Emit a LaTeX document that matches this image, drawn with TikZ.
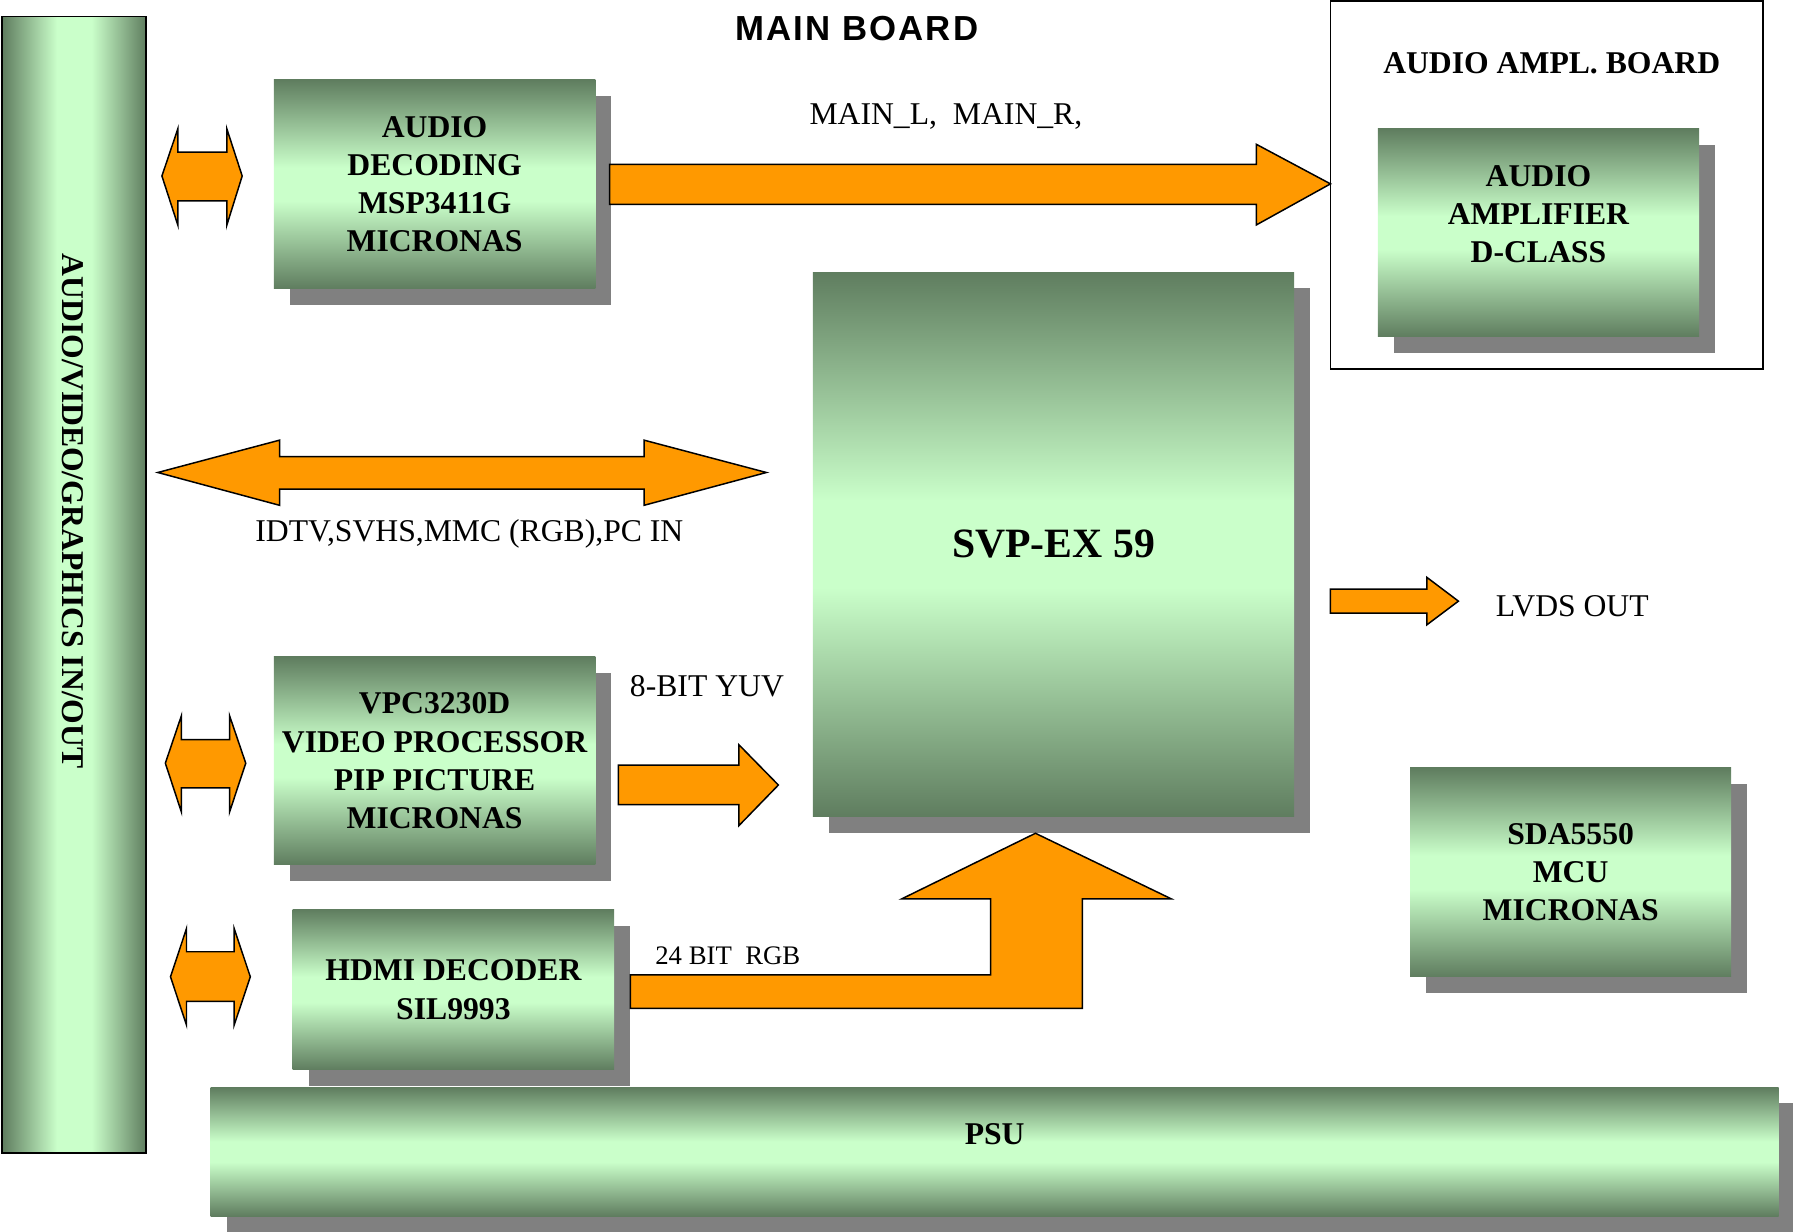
\documentclass[tikz,border=0pt]{standalone}
\usepackage{fontspec}
\setmainfont{Liberation Serif}
\newfontfamily\titlefam[LetterSpace=6]{Liberation Sans}
\definecolor{gdark}{RGB}{95,125,95}
\definecolor{glight}{RGB}{202,255,202}
\definecolor{orng}{RGB}{255,153,0}
\definecolor{shgray}{RGB}{128,128,128}
\pgfdeclareverticalshading{gvert}{100bp}{color(0bp)=(gdark); color(25bp)=(gdark); color(46bp)=(glight); color(54bp)=(glight); color(75bp)=(gdark); color(100bp)=(gdark)}
\pgfdeclarehorizontalshading{ghoriz}{100bp}{color(0bp)=(gdark); color(25bp)=(gdark); color(44bp)=(glight); color(56bp)=(glight); color(75bp)=(gdark); color(100bp)=(gdark)}
\newcommand\bx{\bfseries\fontsize{27.7}{33.4}\selectfont}
\newcommand\rg{\fontsize{27.7}{33.4}\selectfont}
\newcommand\sm{\fontsize{23.4}{28}\selectfont}
\newcommand\ttl{\titlefam\bfseries\fontsize{30.4}{34}\selectfont}
\newcommand\gbox[7]{%
  \fill[shgray] (#2+14,#3+14) rectangle (#4+14,#5+14);
  \node[gbox, minimum width={#4-#2}, minimum height={#5-#3}] (#1) at ({(#2+#4)/2},{(#3+#5)/2}) {};
  \node[btext, yshift=#6pt] (#1-t) at (#1.center) {#7};
}
\newcommand\dblarr[9]{%
  \draw[arr] (#1,#7) -- (#2,#5) -- (#2,#6) -- (#3,#6) -- (#3,#5) -- (#4,#7) -- (#3,#9) -- (#3,#8) -- (#2,#8) -- (#2,#9) -- cycle;
}
\begin{document}
\begin{tikzpicture}[x=1pt,y=-1pt,
  gbox/.style={inner sep=0pt, shade, shading=gvert},
  btext/.style={font=\bx, align=center, inner sep=0pt},
  lbl/.style={font=\rg, anchor=base, inner sep=0pt},
  arr/.style={fill=orng, draw=black, line width=1.3pt, line join=miter}]
\useasboundingbox (0,0) rectangle (1568,1076.6);

% left in/out bar
\node[draw=black, line width=1.6pt, inner sep=0pt, shade, shading=ghoriz,
      minimum width=126, minimum height=993.5] (io) at (65,511.25) {};
\node[btext, rotate=-90] (io-t) at (64,447) {AUDIO/VIDEO/GRAPHICS IN/OUT};

% audio amplifier board frame
\draw[line width=1.5pt] (1163.5,0.8) rectangle (1541.5,322.6);
\node[lbl, font=\bx] (ampboard) at (1357,64.7) {AUDIO AMPL. BOARD};

% title
\node[lbl, font=\ttl] (title) at (749.4,35.6) {MAIN BOARD};

% boxes
\gbox{dec}{239.5}{69.8}{520.6}{252.4}{0}{AUDIO\\DECODING\\MSP3411G\\MICRONAS}
\gbox{amp}{1205}{112.7}{1485.8}{294.3}{16}{AUDIO\\AMPLIFIER\\D-CLASS}
\gbox{svp}{710.8}{237.9}{1131.8}{714.1}{0}{\fontsize{36.5}{40}\selectfont SVP-EX 59}
\gbox{vpc}{239.5}{574.5}{520.6}{756}{0}{VPC3230D\\VIDEO PROCESSOR\\PIP PICTURE\\MICRONAS}
\gbox{hdmi}{256}{795.4}{537.1}{935.5}{0}{HDMI DECODER\\SIL9993}
\gbox{sda}{1233.2}{671.6}{1513.9}{854.2}{0}{SDA5550\\MCU\\MICRONAS}
\gbox{psu}{184.2}{951}{1555.5}{1063.4}{15}{PSU}

% block arrows
\draw[arr] (533.1,143.8) -- (1098.7,143.8) -- (1098.7,126.2) -- (1163.5,160.8) -- (1098.7,196.7) -- (1098.7,178.8) -- (533.1,178.8) -- cycle;
\draw[arr] (138,413.2) -- (244.5,384.9) -- (244.5,399.4) -- (563.2,399.4) -- (563.2,384.9) -- (670.2,413.2) -- (563.2,441.9) -- (563.2,427.7) -- (244.5,427.7) -- (244.5,441.9) -- cycle;
\dblarr{141.6}{155.6}{198.3}{211.8}{112.4}{133.1}{153.9}{175.7}{197.1}
\dblarr{144.6}{158.6}{200.8}{214.9}{626}{646.7}{667.4}{688.9}{710}
\dblarr{149.1}{163.1}{204.8}{218.9}{812}{832.3}{854.2}{875.7}{896.4}
\draw[arr] (540.7,669.2) -- (646.1,669.2) -- (646.1,651.2) -- (680.7,686.5) -- (646.1,722.1) -- (646.1,703.7) -- (540.7,703.7) -- cycle;
\draw[arr] (1163.5,515.2) -- (1247.8,515.2) -- (1247.8,504.9) -- (1275.4,525.7) -- (1247.8,546.4) -- (1247.8,536.2) -- (1163.5,536.2) -- cycle;
\draw[arr] (551.2,852.5) -- (866.3,852.5) -- (866.3,786.1) -- (788.5,786.1) -- (905.5,728.7) -- (1024.4,786.1) -- (946.6,786.1) -- (946.6,881.9) -- (551.2,881.9) -- cycle;

% labels
\node[lbl] (mainlr) at (827.2,109) {MAIN\_L,\ \ MAIN\_R,};
\node[lbl] (idtv) at (410.5,473.7) {IDTV,SVHS,MMC (RGB),PC IN};
\node[lbl] (yuv) at (618.2,609.4) {8-BIT YUV};
\node[lbl, font=\sm] (rgb) at (636.5,843.1) {24 BIT\ \ RGB};
\node[lbl] (lvds) at (1375,538.7) {LVDS OUT};
\end{tikzpicture}
\end{document}
